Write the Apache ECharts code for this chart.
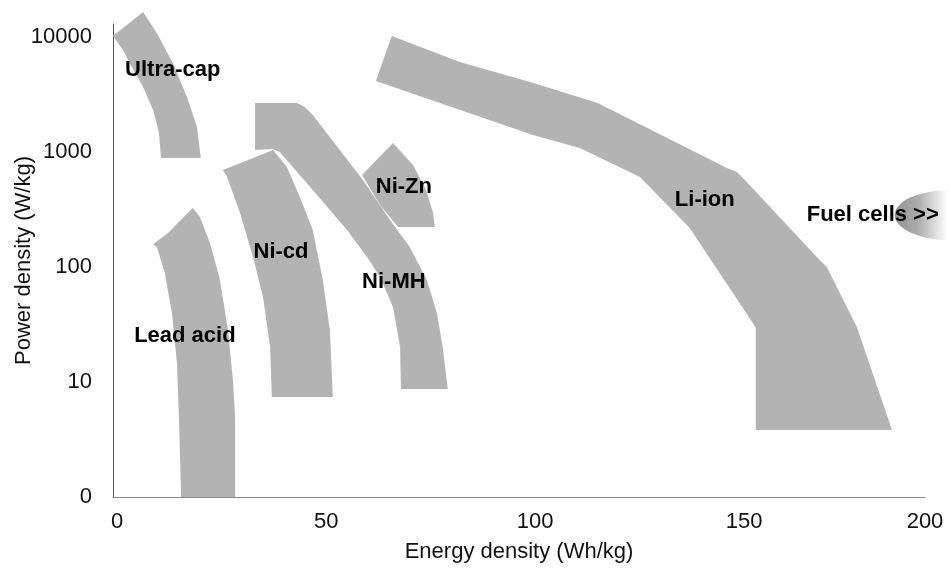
<!DOCTYPE html>
<html>
<head>
<meta charset="utf-8">
<script src="https://cdn.jsdelivr.net/npm/echarts@6/dist/echarts.min.js"></script>
<style>
html,body{margin:0;padding:0;background:#fff;}
#chart{width:949px;height:569px;}
</style>
</head>
<body>
<div id="chart"></div>
<script>
// ---- Axis ticks / labels ----
const xTickValues = [0, 50, 100, 150];
const xTickLabels = ['0', '50', '100', '150', '200'];
const yTickValues = [1, 10, 100, 1000, 10000];
const yTickLabels = ['0', '10', '100', '1000', '10000'];

// ---- Regions: [energy density (Wh/kg), power density (W/kg)] outline vertices ----
const ultraCap = [[-1.0,10200],[6.2,16500],[9.5,10800],[13.3,5940],[16.7,3010],[19.1,1650],[20.0,887],[10.5,887],[10.0,1460],[8.6,2320],[6.2,3670],[3.5,5480],[1.4,7710]];
const leadAcid = [[8.6,158],[12.2,198],[14.5,241],[18.1,326],[19.8,272],[22.2,162],[24.6,77.1],[26.5,28.3],[27.7,10.4],[28.2,5.0],[28.2,1],[15.3,1],[14.8,4.67],[14.3,14.6],[13.1,39.8],[11.4,88.7],[9.5,149]];
const niCd = [[25.3,697],[27.7,755],[37.3,1040],[40.6,741],[43.7,406],[46.8,210],[49.2,77.1],[50.9,28.3],[51.6,7.4],[37.0,7.4],[36.6,20.2],[34.9,54.8],[32.5,122],[29.4,295],[26.3,606]];
const niMH = [[33.0,2670],[43.0,2670],[44.9,2460],[46.8,2100],[58.8,571],[65.3,256],[70.0,149],[74.1,77.1],[76.5,39.8],[77.9,20.2],[79.1,8.7],[67.9,8.7],[67.7,20.2],[66.0,44.9],[62.9,81.9],[59.8,122],[55.0,210],[46.8,468],[38.9,1000],[37.3,1060],[33.0,1040]];
const niZn = [[58.6,631],[66.0,1200],[70.8,771],[73.9,468],[75.6,295],[76.0,223],[67.2,223],[62.9,346]];
const liIon = [[65.7,10200],[82.0,6060],[98.8,4060],[115.0,2670],[145.9,726],[148.3,670],[150.2,571],[167.4,122],[169.8,100],[177.0,30.1],[185.4,3.83],[152.8,3.83],[152.8,29.5],[152.1,32.6],[137.0,218],[125.1,606],[110.7,1084],[99.5,1406],[61.9,4141]];
const fuelCells = [[199.2, 283]];

// ---- Region names and where they are written ----
const labelNames  = ['Ultra-cap', 'Lead acid', 'Ni-cd', 'Ni-MH', 'Ni-Zn', 'Li-ion', 'Fuel cells >>'];
const labelEnergy = [13.3, 16.2, 39.2, 66.2, 68.6, 140.6, 180.8];
const labelPower  = [5160, 25.1, 135, 74.1, 496, 383, 283];

const shapes = [ultraCap, leadAcid, niCd, niMH, niZn, liIon];
const X_MIN = -1, X_MAX = 193.3;
const FONT = '"Liberation Sans", Arial, Helvetica, sans-serif';

const chart = echarts.init(document.getElementById('chart'), null, {renderer: 'canvas'});
chart.setOption({
  animation: false,
  backgroundColor: '#fff',
  grid: {left: 113, right: 24, top: 24, bottom: 72, containLabel: false, outerBoundsMode: 'none'},
  xAxis: {
    type: 'value', min: X_MIN, max: X_MAX,
    name: 'Energy density (Wh/kg)', nameLocation: 'middle', nameGap: 44, nameMoveOverlap: false,
    nameTextStyle: {fontFamily: FONT, fontSize: 22, color: '#111'},
    axisLine: {show: true, onZero: false, lineStyle: {color: '#8a8a8a', width: 1}},
    axisTick: {show: false},
    splitLine: {show: false},
    axisLabel: {
      customValues: xTickValues.concat([X_MAX]),
      formatter: (v) => {
        const i = xTickValues.indexOf(v);
        return i >= 0 ? xTickLabels[i] : xTickLabels[xTickLabels.length - 1];
      },
      margin: 14, fontFamily: FONT, fontSize: 22, color: '#111'
    }
  },
  yAxis: {
    type: 'log', logBase: 10, min: 1, max: 12970,
    name: 'Power density (W/kg)', nameLocation: 'middle', nameGap: 78, nameRotate: 90, nameMoveOverlap: false,
    nameTextStyle: {fontFamily: FONT, fontSize: 22, color: '#111'},
    axisLine: {show: true, onZero: false, lineStyle: {color: '#555', width: 1}},
    axisTick: {show: false},
    splitLine: {show: false},
    axisLabel: {
      customValues: yTickValues,
      formatter: (v) => {
        let best = 0;
        yTickValues.forEach((t, i) => { if (Math.abs(Math.log10(t) - Math.log10(v)) < 0.01) best = i; });
        return yTickLabels[best];
      },
      margin: 21, fontFamily: FONT, fontSize: 22, color: '#111'
    }
  },
  series: [
    {
      type: 'scatter',
      data: fuelCells,
      symbol: 'circle',
      symbolSize: [110, 50],
      clip: false,
      silent: true,
      z: 1,
      itemStyle: {
        opacity: 1,
        color: {type: 'linear', x: 0, y: 0, x2: 1, y2: 0,
          colorStops: [{offset: 0, color: '#959595'}, {offset: 0.2, color: '#a9a9a9'}, {offset: 0.48, color: '#ffffff'}, {offset: 1, color: '#ffffff'}]}
      }
    },
    {
      type: 'custom',
      clip: false,
      silent: true,
      z: 2,
      data: shapes.map(s => s[0]),
      renderItem: (params, api) => {
        const pts = shapes[params.dataIndex].map(p => api.coord(p));
        return {type: 'polygon', shape: {points: pts}, style: {fill: '#b3b3b3', stroke: null}};
      }
    },
    {
      type: 'custom',
      clip: false,
      silent: true,
      z: 5,
      data: labelNames.map((n, i) => [labelEnergy[i], labelPower[i]]),
      renderItem: (params, api) => {
        const i = params.dataIndex;
        const pt = api.coord([labelEnergy[i], labelPower[i]]);
        return {type: 'text', x: pt[0], y: pt[1],
          style: {text: labelNames[i], font: 'bold 22px ' + FONT, fill: '#000', align: 'center', verticalAlign: 'middle'}};
      }
    }
  ]
});
</script>
</body>
</html>
